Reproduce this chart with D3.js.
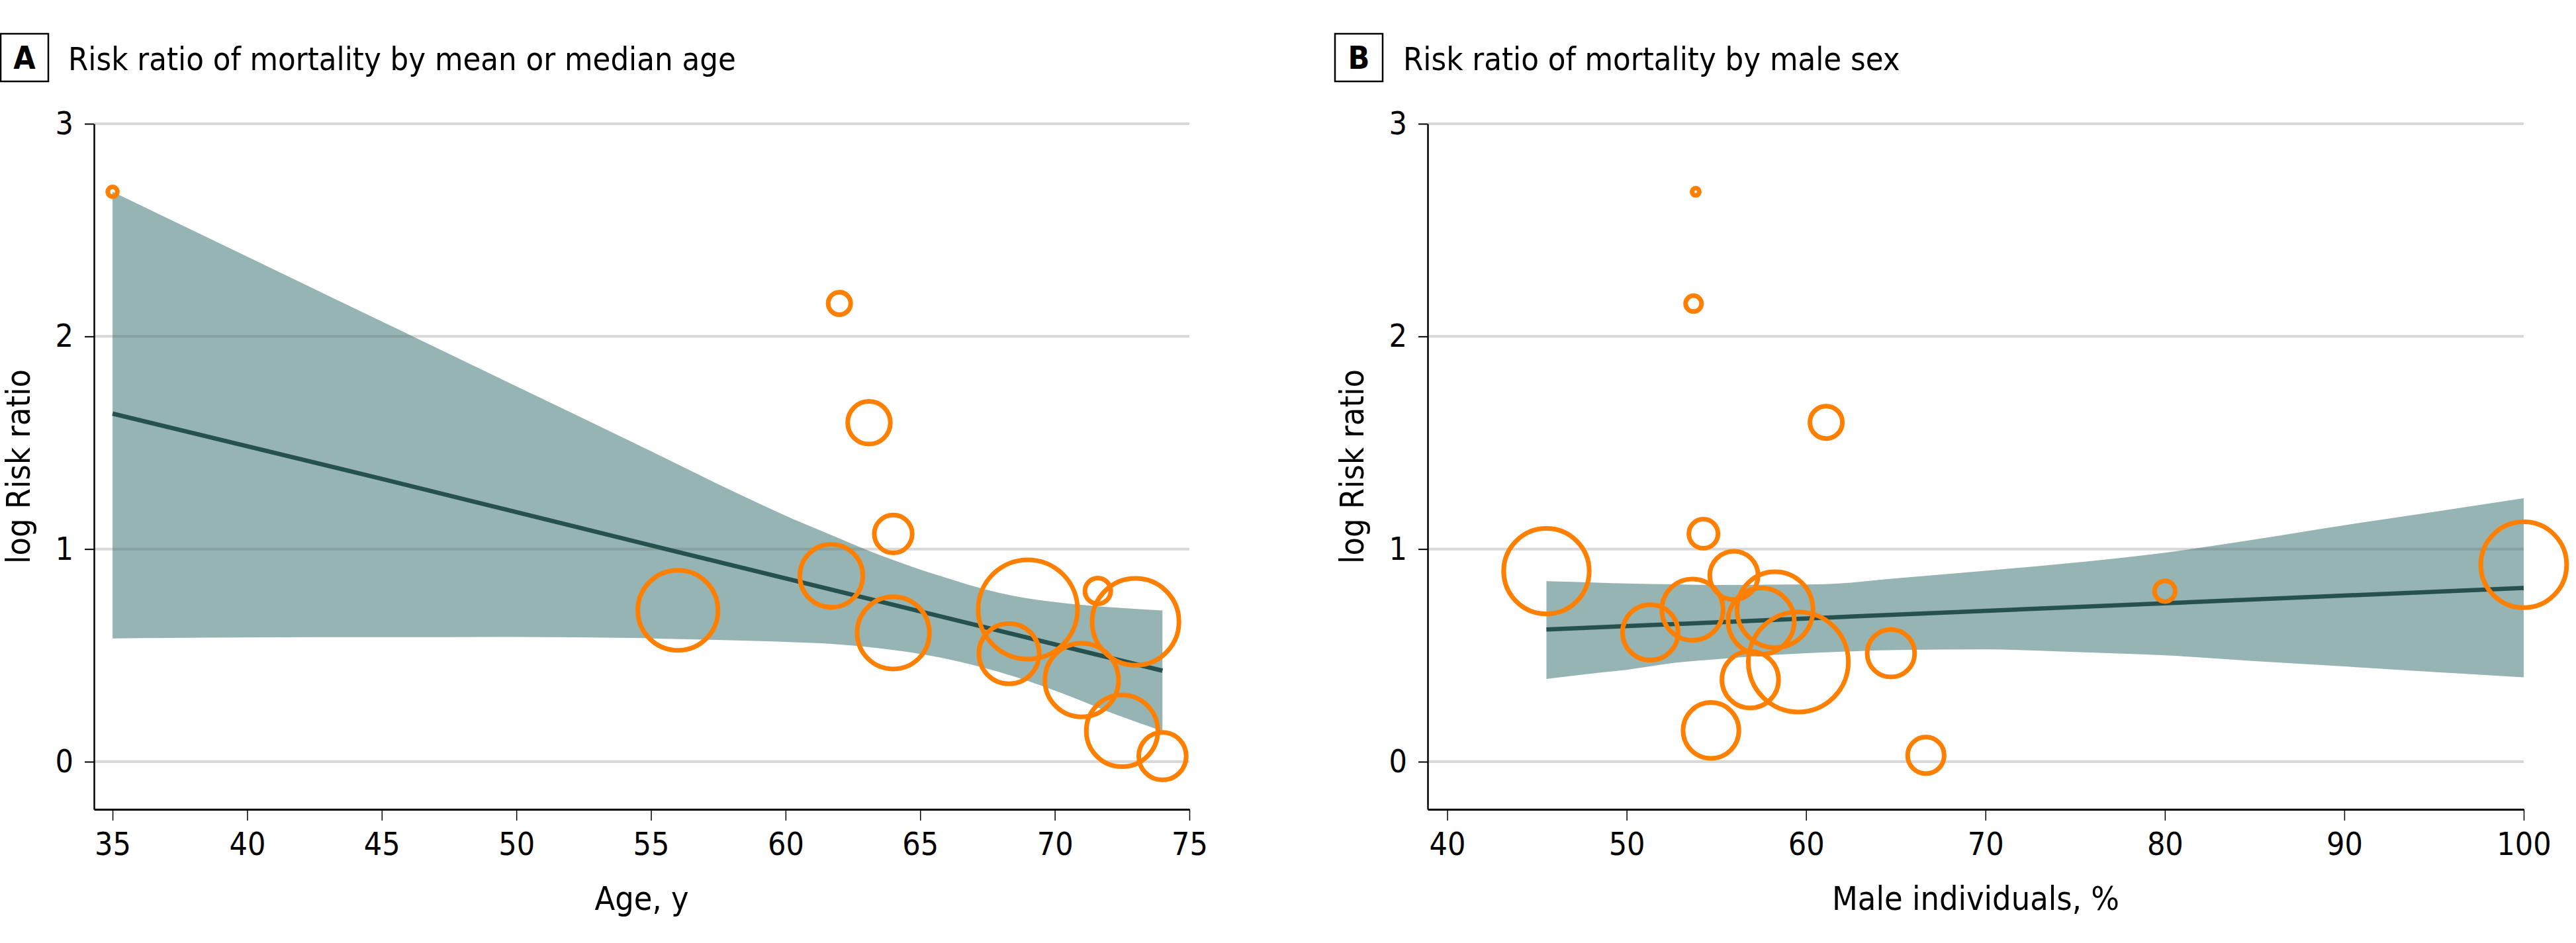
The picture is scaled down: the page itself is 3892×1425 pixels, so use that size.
<!DOCTYPE html>
<html>
<head>
<meta charset="utf-8">
<script src="https://cdn.jsdelivr.net/npm/d3@7"></script>
<style>
  html, body { margin: 0; padding: 0; background: #fff; }
  svg { display: block; }
  text { font-family: "DejaVu Sans", "Liberation Sans", sans-serif; font-stretch: condensed; fill: #000; }
</style>
</head>
<body>
<svg id="chart" width="3892" height="1425"></svg>
<script>
// ---------- DATA ----------
const panelTitles = ["Risk ratio of mortality by mean or median age", "Risk ratio of mortality by male sex"];
const panelLetters = ["A", "B"];
const xAxisTitles = ["Age, y", "Male individuals, %"];
const yAxisTitle = "log Risk ratio";
const yTicks = [0, 1, 2, 3];
const xTicksA = [35, 40, 45, 50, 55, 60, 65, 70, 75];
const xTicksB = [40, 50, 60, 70, 80, 90, 100];

// Panel A studies: mean/median age, log RR, weight
const ageA    = [35.0, 62.0, 63.1, 64.0, 61.7, 56.0, 64.0, 69.0, 68.3, 71.6, 73.0, 71.0, 72.5, 74.0];
const logRRA  = [2.68, 2.155, 1.594, 1.071, 0.874, 0.712, 0.606, 0.716, 0.508, 0.803, 0.658, 0.384, 0.145, 0.026];
const weightA = [0.09, 0.50, 1.80, 1.42, 3.92, 6.35, 5.16, 9.75, 3.59, 0.66, 7.45, 5.35, 5.06, 2.23];

// Panel A fitted meta-regression line and 95% CI band
const fitAgeA   = [35, 45, 55, 65, 74];
const fitA      = [1.637, 1.33, 1.017, 0.707, 0.428];
const bandAgeA  = [35, 40, 42.7, 45, 49.3, 50, 54.3, 55, 59.1, 60.3, 61.3, 63.5, 65.7, 67.9, 70.1, 72.3, 74];
const bandUpA   = [2.68, 2.375, 2.21, 2.07, 1.808, 1.765, 1.503, 1.46, 1.209, 1.14, 1.087, 0.972, 0.875, 0.795, 0.749, 0.724, 0.711];
const bandLoA   = [0.580, 0.584, 0.586, 0.586, 0.587, 0.587, 0.582, 0.580, 0.567, 0.562, 0.557, 0.533, 0.491, 0.423, 0.330, 0.220, 0.144];

// Panel B studies: male %, log RR, weight
const maleB    = [53.85, 53.73, 61.12, 54.28, 45.53, 55.98, 53.67, 51.32, 58.27, 57.5, 59.57, 56.89, 54.7, 64.73, 66.68, 80.0, 100.0];
const logRRB   = [2.68, 2.154, 1.596, 1.072, 0.896, 0.876, 0.715, 0.608, 0.715, 0.661, 0.469, 0.386, 0.147, 0.510, 0.030, 0.802, 0.926];
const weightB  = [0.052, 0.25, 1.04, 0.84, 7.23, 2.31, 3.71, 3.05, 5.70, 4.33, 9.9, 3.17, 3.08, 2.23, 1.32, 0.42, 7.28];

// Panel B fitted line and CI band
const fitMaleB  = [45.53, 100];
const fitB      = [0.6215, 0.817];
const bandMaleB = [45.53, 48.4, 50, 52.7, 55, 59, 61.1, 65, 70, 73.7, 77.4, 80, 85, 90, 95, 100];
const bandUpB   = [0.849, 0.842, 0.838, 0.834, 0.831, 0.833, 0.835, 0.862, 0.898, 0.926, 0.957, 0.983, 1.045, 1.112, 1.175, 1.239];
const bandLoB   = [0.389, 0.418, 0.432, 0.465, 0.482, 0.506, 0.514, 0.525, 0.528, 0.520, 0.509, 0.500, 0.473, 0.448, 0.422, 0.397];

// ---------- STYLE ----------
const ORANGE = "#ff8000";
const BAND = "#95b4b3";
const LINE = "#26514f";
const GRID = "rgba(100,100,100,0.25)";

const svg = d3.select("#chart");
svg.append("rect").attr("width", 3892).attr("height", 1425).attr("fill", "#fff");

const y = d3.scaleLinear().domain([-0.224, 3]).range([1223, 187]);
const r = d3.scaleSqrt().domain([0, 10]).range([0, 76]);

const panels = [
  { letter: panelLetters[0], title: panelTitles[0], xTitle: xAxisTitles[0],
    x: d3.scaleLinear().domain([34.31, 75]).range([142, 1797]), xTicks: xTicksA,
    boxX: 1, titleX: 103, yTitleX: 45,
    pts: ageA.map((a, i) => ({ x: a, y: logRRA[i], w: weightA[i] })),
    fit: fitAgeA.map((a, i) => ({ x: a, y: fitA[i] })),
    band: bandAgeA.map((a, i) => ({ x: a, lo: bandLoA[i], hi: bandUpA[i] })) },
  { letter: panelLetters[1], title: panelTitles[1], xTitle: xAxisTitles[1],
    x: d3.scaleLinear().domain([38.91, 100]).range([2157, 3813]), xTicks: xTicksB,
    boxX: 2017, titleX: 2120, yTitleX: 2060,
    pts: maleB.map((m, i) => ({ x: m, y: logRRB[i], w: weightB[i] })),
    fit: fitMaleB.map((m, i) => ({ x: m, y: fitB[i] })),
    band: bandMaleB.map((m, i) => ({ x: m, lo: bandLoB[i], hi: bandUpB[i] })) }
];

panels.forEach(p => {
  const g = svg.append("g");
  const x = p.x;
  const [x0, x1] = x.range();

  // panel letter box + title
  g.append("rect").attr("x", p.boxX).attr("y", 51).attr("width", 72).attr("height", 72)
    .attr("fill", "none").attr("stroke", "#000").attr("stroke-width", 2.5);
  g.append("text").attr("x", p.boxX + 36).attr("y", 104).attr("text-anchor", "middle")
    .attr("font-size", 48).attr("font-weight", "bold").text(p.letter);
  g.append("text").attr("x", p.titleX).attr("y", 106).attr("font-size", 48.5).text(p.title);

  // CI band
  g.append("path").datum(p.band)
    .attr("d", d3.area().x(d => x(d.x)).y0(d => y(d.lo)).y1(d => y(d.hi)).curve(d3.curveMonotoneX))
    .attr("fill", BAND);

  // gridlines
  g.selectAll("line.grid").data(yTicks).join("line").attr("class", "grid")
    .attr("x1", x0).attr("x2", x1).attr("y1", d => y(d)).attr("y2", d => y(d))
    .attr("stroke", GRID).attr("stroke-width", 4);

  // fitted line
  g.append("path").datum(p.fit)
    .attr("d", d3.line().x(d => x(d.x)).y(d => y(d.y)))
    .attr("fill", "none").attr("stroke", LINE).attr("stroke-width", 6.5);

  // bubbles
  g.selectAll("circle.study").data(p.pts).join("circle").attr("class", "study")
    .attr("cx", d => x(d.x)).attr("cy", d => y(d.y)).attr("r", d => r(d.w))
    .attr("fill", "none").attr("stroke", ORANGE).attr("stroke-width", 7);

  // axes
  const xAxis = g.append("g").attr("transform", "translate(0,1223)")
    .call(d3.axisBottom(x).tickValues(p.xTicks).tickSize(17).tickSizeOuter(0).tickPadding(18));
  xAxis.select(".domain").attr("stroke", "#000").attr("stroke-width", 3);
  xAxis.selectAll(".tick line").attr("stroke", "#000").attr("stroke-width", 1.5);
  xAxis.selectAll(".tick text").attr("font-size", 48).attr("font-family", null);

  const yAxis = g.append("g").attr("transform", `translate(${x0},0)`)
    .call(d3.axisLeft(y).tickValues(yTicks).tickFormat(d3.format("d")).tickSize(14).tickSizeOuter(0).tickPadding(17));
  yAxis.select(".domain").attr("stroke", "#000").attr("stroke-width", 2.5);
  yAxis.selectAll(".tick line").attr("stroke", "#000").attr("stroke-width", 2);
  yAxis.selectAll(".tick text").attr("font-size", 48).attr("font-family", null);

  // axis titles
  g.append("text").attr("x", (x0 + x1) / 2).attr("y", 1375).attr("text-anchor", "middle")
    .attr("font-size", 50).text(p.xTitle);
  g.append("text").attr("transform", `translate(${p.yTitleX},705) rotate(-90)`)
    .attr("text-anchor", "middle").attr("font-size", 50).text(yAxisTitle);
});
</script>
</body>
</html>
